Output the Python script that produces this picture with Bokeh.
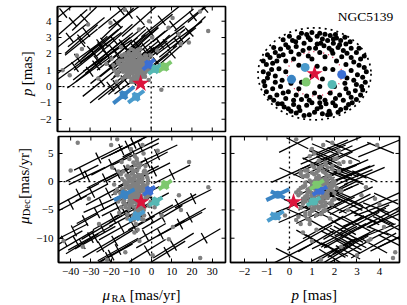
import math
from bokeh.plotting import figure
from bokeh.layouts import column, row
from bokeh.models import Range1d, FixedTicker, Span, Label
from bokeh.core.properties import value
from bokeh.embed import file_html
from bokeh.resources import INLINE

FONT = "Liberation Serif"

# ---------------- data ----------------
# field stars with large errors (black crosses): proper motions [mas/yr], parallax [mas]
BLACK_RA = [-43.2, -38.4, -36.0, -34.3, -32.8, -31.9, -30.2, -29.5, -26.3, -24.6,
            -24.6, -21.4, -19.8, -18.2, -16.6, -15.0, -15.0, -11.8, -11.8, -10.9,
            -8.5, -5.3, -2.1, -2.1, -0.5, 1.1, 2.7, 4.4, 5.2, 10.0,
            10.8, 14.0, 18.7, 20.5, -37.4, -27.9, -34.3, -21.4, -8.5, 7.6,
            -16.6, 26.0, -5.2, -12.5, -27.0, -23.0, -19.0, -14.0, -9.5, -6.5,
            -25.0, -3.0, 0.5, -17.0, 13.0, -40.0, -9.0, -20.0, -13.0]
BLACK_DEC = [-10.5, -8.7, -2.2, -11.0, -6.9, 1.0, -9.9, -1.9, 4.2, -8.1,
             -4.0, -13.4, 3.07, -10.5, -4.6, 5.7, -8.1, 6.3, -0.8, -6.0,
             4.8, 6.0, 3.35, -12.2, -6.3, 1.9, 4.8, -9.3, -6.3, 1.3,
             -11.3, -7.5, -6.3, -3.0, -10.5, -9.9, 1.5, -2.0, -8.1, -12.5,
             -12.0, -10.0, -2.5, 2.0, -5.5, 0.5, -6.5, -3.0, -4.5, 1.0,
             -11.5, -9.5, -3.5, 1.5, -4.0, -4.0, 6.8, -13.0, -5.7]
BLACK_P = [4.5, 3.95, 1.7, 2.72, 4.15, 3.33, 0.9, 2.2, 1.6, 2.41,
           0.3, 1.9, 1.18, 2.82, 3.85, 1.6, 4.66, 2.2, 1.2, 4.46,
           2.41, 4.05, 1.8, 2.0, 3.33, 2.2, 1.5, 2.62, 4.05, 2.0,
           3.74, 3.0, 3.33, 4.3, 1.2, 2.0, 2.9, 1.9, 1.5, 2.6,
           2.0, 4.8, 1.9, 2.4, 1.3, 2.7, 2.3, 2.6, 2.0, 2.5,
           2.6, 2.4, 1.2, 0.1, 2.7, 3.0, 0.35, 0.0, 0.4]
# error ellipse: half length of major axis (in mu_RA) and its slopes dp/dRA, dDec/dRA
BLACK_L = [9, 7, 10, 8, 6, 9, 11, 8, 12, 10,
           9, 12, 10, 9, 8, 10, 11, 9, 8, 10,
           12, 9, 10, 9, 11, 8, 10, 12, 10, 9,
           10, 11, 8, 9, 9, 10, 8, 11, 10, 9,
           10, 8, 9, 10, 10, 9, 10, 11, 9, 10,
           9, 10, 8, 9, 9, 8, 9, 10, 8]
BLACK_KP = [0.10, 0.11, 0.09, 0.10, 0.12, 0.10, 0.09, 0.11, 0.10, 0.09,
            0.10, 0.08, 0.10, 0.11, 0.12, 0.10, 0.10, 0.11, 0.10, 0.09,
            0.10, 0.11, 0.10, 0.09, 0.10, 0.12, 0.10, 0.09, 0.10, 0.11,
            0.10, 0.09, 0.12, 0.10, 0.09, 0.10, 0.11, 0.10, 0.09, 0.10,
            0.10, 0.11, 0.10, 0.11, 0.10, 0.11, 0.10, 0.10, 0.10, 0.11,
            0.10, 0.10, 0.10, 0.10, 0.10, 0.10, 0.09, 0.10, 0.11]
BLACK_KD = [0.20, 0.18, 0.19, 0.22, 0.20, 0.17, 0.20, 0.19, 0.18, 0.21,
            0.16, 0.20, 0.19, 0.22, 0.18, 0.17, 0.20, 0.18, 0.20, 0.19,
            0.17, 0.18, 0.19, 0.22, 0.20, 0.18, 0.17, 0.20, 0.21, 0.18,
            0.22, 0.19, 0.20, 0.18, 0.21, 0.20, 0.18, 0.19, 0.20, 0.22,
            0.20, 0.21, 0.18, 0.19, 0.19, 0.18, 0.20, 0.19, 0.20, 0.18,
            0.21, 0.21, 0.19, 0.18, 0.20, 0.19, 0.18, 0.20, 0.19]

# stars with small errors (grey points)
GRAY_RA = [-8.2, -6.5, -10.1, -4.3, -12.4, -7.7, -2.9, -9.6, -5.8, -14.2,
           -11.0, -3.5, -7.1, -13.1, -1.2, -9.0, -6.0, -15.8, -4.9, -8.8,
           -10.5, -5.2, -12.9, -2.2, -7.4, -17.0, -9.3, -3.9, -6.7, -11.8,
           -8.0, -4.6, -14.6, -0.5, -10.0, -6.3, -12.0, -2.8, -9.8, -7.0,
           -5.5, -13.5, -8.6, -3.2, -11.3, -6.9, -16.4, -1.8, -9.1, -4.0,
           -7.8, -10.8, -5.0, -12.6, -2.5, -8.4, -6.1, -14.0, -3.7, -9.5,
           -11.6, -4.4, -7.3, -15.2, -6.6, -1.0, -9.9, -5.7, -13.0, -8.1,
           -3.0, -10.3, -6.8, -12.2, -4.8, -8.9, -2.0, -7.5, -11.4, -5.4,
           -9.2, -6.2, -13.8, -3.4, -7.9, -10.6, -5.0, -1.5, -8.3, -12.8,
           -4.2, -7.6, -15.0, -9.7, -2.6, -6.4, -11.1, -8.7, -5.9, -3.6,
           -18.5, -16.0, -0.2, 1.5, -19.5, -14.8, -6.9, -10.2, -4.5, -8.5,
           -7.0, -9.5, -5.5, -11.2, -8.3, -6.2, -10.3, -4.8, -12.0, -7.8,
           -9.0, -6.8, -13.0, -8.4, -5.0, -10.8, -7.4, -3.6, -11.6, -9.8,
           -8.6, -6.0, -10.0, -4.2, -12.5, -7.2, -9.2, -5.8, -11.0, -13.6,
           -7.6, -10.6, -6.4, -8.9, -4.5, -11.9, -5.3, -9.4, -14.5, -3.0,
           -8.0, -6.7, -9.9, -5.2, -12.8, -7.1, -10.4, -3.8, -8.7, -15.5,
           -6.9, -9.3, -11.5, -4.9, -7.9, -13.4, -2.4, -10.1, -6.0, -8.2,
           -16.5, -14.0, -1.5, -18.0, -3.0, -12.0, -6.5, -9.0, -4.0, -11.0,
           -36.5, 18.5, -43.5, 13.5, -31.0, 0.5, 8.5, -34.0, 24.0, 14.5,
           -20.0, -13.0, 5.0, -1.0, -26.0, 28.0, -40.0, -22.0, 3.0, 10.5,
           -6.0, -17.0]
GRAY_DEC = [-1.2, 0.4, -2.8, -3.9, 1.1, -0.3, -1.8, 2.2, -4.6, -2.1,
            -3.4, 1.6, -5.5, -0.6, -2.4, 3.4, -1.0, -3.0, 0.9, -6.8,
            0.2, -2.6, -4.2, 0.8, 4.1, -1.4, -0.9, -5.0, -3.2, 2.7,
            -2.0, -0.2, 0.5, -3.6, -1.7, 2.5, -5.8, -1.1, 1.4, -4.1,
            3.0, -2.9, -0.6, -2.0, -4.8, -1.5, 1.8, 0.3, -3.1, 5.0,
            -7.5, 0.7, -4.4, -1.0, -0.8, 1.9, -2.3, -3.7, -6.0, -0.1,
            -2.5, -1.3, 3.7, 1.3, -5.2, -4.3, -1.9, 0.0, -0.4, 2.9,
            -2.9, -3.8, -0.9, -2.2, 1.2, -5.9, -0.3, -3.3, 1.0, -1.6,
            0.6, -4.7, -1.6, 2.0, -2.7, -0.7, -6.6, -1.9, 4.5, -4.0,
            -3.5, -2.0, -4.5, -3.0, 1.5, 0.9, -1.1, -0.5, -2.5, -0.7,
            -0.5, -5.5, -1.5, -4.5, 2.5, 3.5, -8.5, 5.8, 6.5, -9.0,
            -1.8, -0.8, -2.6, -1.2, -3.0, 0.2, -2.2, -1.5, -0.3, -3.6,
            -2.4, -0.5, -1.8, 1.0, -3.4, -4.2, -2.9, -2.2, 0.6, -1.4,
            0.4, -1.2, -3.4, -0.6, -2.6, -4.8, 1.6, -3.8, -0.9, -3.3,
            -2.6, -1.9, 1.2, -4.4, 0.5, -0.1, -0.9, -2.9, -1.3, -3.0,
            -5.2, -3.2, 0.3, -1.7, -4.5, 2.0, -3.9, 1.8, -2.0, -2.0,
            -0.2, -3.7, -2.7, -4.9, 0.9, 0.1, -2.7, 2.3, -5.7, -1.1,
            -3.5, 1.8, -4.2, -2.0, 2.8, -6.5, 3.2, -6.2, -6.8, 4.0,
            6.9, 3.5, -10.5, -2.4, -3.0, -13.0, -10.2, -11.5, -13.5, -5.0,
            6.5, -12.5, -6.0, -4.0, -7.5, -1.0, 2.0, -13.8, 5.5, -8.0,
            -10.5, 7.5]
GRAY_P = [1.1, 1.4, 0.8, 0.6, 1.7, 1.3, 0.9, 1.9, 0.5, 1.2,
          1.5, 1.0, 0.7, 2.0, 0.4, 1.6, 1.2, 1.4, 1.8, 0.3,
          0.9, 1.5, 1.1, 1.3, 2.1, 0.8, 1.0, 1.6, 0.6, 1.4,
          1.3, 0.7, 1.9, 1.0, 2.3, 1.1, 0.9, 1.7, 0.5, 1.2,
          1.6, 1.0, 1.8, 0.8, 1.3, 0.4, 1.5, 1.2, 2.0, 1.1,
          0.9, 1.2, 1.4, 0.6, 1.9, 2.2, 1.0, 1.6, 0.7, 1.5,
          0.8, 1.7, 1.3, 1.1, 1.5, 0.9, 0.3, 2.0, 1.4, 1.0,
          1.4, 1.8, 0.6, 1.5, 0.8, 1.2, 1.0, 1.9, 0.7, 2.3,
          1.6, 1.1, 0.9, 1.3, 1.5, 1.2, 0.8, 1.7, 0.9, 1.9,
          1.0, 0.5, 1.3, 1.0, 1.6, 0.8, 2.1, 1.4, 1.7, 0.7,
          1.3, 0.9, 1.9, 1.1, 1.7, 2.4, 1.2, 1.0, 1.5, 0.6,
          1.2, 1.0, 1.3, 1.4, 1.0, 1.6, 1.1, 1.4, 1.7, 0.9,
          0.8, 1.5, 1.2, 1.3, 0.9, 1.6, 1.0, 1.1, 1.2, 1.8,
          1.5, 0.9, 1.3, 1.6, 0.7, 1.1, 1.2, 1.0, 0.6, 1.4,
          1.6, 1.3, 0.8, 1.5, 1.3, 1.0, 1.8, 1.7, 1.2, 0.6,
          1.0, 0.7, 1.7, 1.2, 1.3, 0.8, 0.9, 1.5, 2.0, 1.6,
          1.9, 1.4, 1.6, 1.0, 0.6, 1.1, 1.1, 1.3, 1.4, 0.5,
          0.7, 0.5, 1.5, 1.0, 1.9, 1.8, 2.2, 0.4, 0.9, 2.0,
          1.9, 2.7, 1.0, 3.2, 3.8, 3.0, 3.6, 2.3, 4.6, 2.6,
          3.9, 4.7, -0.2, 4.0, 0.5, 3.4, 0.7, 1.4, 2.2, 4.2,
          3.5, 0.3]

# highlighted stars (coloured crosses)
COL_COLORS = ["#3b6fd4", "#55b8b4", "#7dc86e", "#3a84c4", "#4a9bcc"]
COL_RA = [-1.2, 2.0, 6.7, -13.5, -7.4]
COL_DEC = [-1.6, -3.5, -0.55, -2.3, -6.1]
COL_P = [1.35, 1.07, 1.22, -0.52, -0.62]
COL_L = [2.9, 3.3, 3.2, 5.1, 3.9]
COL_KP = [0.11, 0.09, 0.095, 0.10, 0.093]
COL_KD = [0.25, 0.21, 0.25, 0.19, 0.22]
COL_SKY_U = [0.52, 0.335, -0.16, -0.44, -0.18]
COL_SKY_V = [-0.016, -0.25, -0.195, -0.13, 0.15]

# the cluster itself
STAR_RA, STAR_DEC, STAR_P = -5.2, -3.6, 0.18
CLUSTER_NAME = "NGC5139"

# sky positions of the field stars (offsets relative to the cluster centre)
SKY_U = [-0.05, 0.1, 0.2, -0.15, 0.3, 0.05, -0.3, 0.42, 0.15, -0.08, 0.25, 0.5, -0.42, 0.36, -0.2, 0.6, 0.05, -0.55, 0.18, -0.35, 0.45, 0.7, -0.65, 0.28, -0.1,
         -0.75, 0.8, -0.6, 0.62, -0.85, 0.88, -0.45, 0.52, 0.35, -0.3, 0.1, -0.72, 0.75, -0.92, 0.95, -0.55, 0.6, 0.42, -0.4, 0.2, -0.12,
         -0.98, -0.82, -0.68, -0.55, 0.7, 0.82, 0.92, -0.9, -0.75, 0.62, 0.05, -0.05, 0.15, -0.62, 0.75,
         -0.95, 0.9, -0.8, 0.78, -0.65, 0.6, -0.5, 0.48, -0.35, 0.3, -0.15, 0.1, -0.72, 0.7, -0.85, 0.88, -0.55, 0.55, -0.25, 0.2, 0.0, 0.38, -0.3,
         -0.62, 0.65, -0.4, 0.4, -0.15, 0.12, -0.5, 0.5, -0.28, 0.28, 0.0, -0.1, 0.15, -0.35, 0.35, -0.05, 0.05, 0.22,
         -0.25, 0.4, -0.48, 0.58, -0.6, 0.68, -0.78, 0.85, -0.9, 0.95, -0.98, 0.99, -0.97, 0.97, -0.92, 0.92, -0.78, 0.8, -0.7, 0.72, -0.58, 0.6, -0.45, 0.45, -0.2, 0.25,
         0.02, -0.22, 0.33, 0.55, -0.5, 0.12, -0.12, 0.36, -0.36, 0.48,
         -0.88, 0.85, -0.8, 0.7, -0.68,
         -0.4, 0.4, -0.6, 0.65, -0.1, 0.1, -0.75, 0.8, 0.3, -0.3, 0.58, -0.45,
         0.2, -0.3, 0.35, -0.25, 0.1, -0.05]
SKY_V = [0.97, 0.95, 0.93, 0.92, 0.9, 0.88, 0.85, 0.84, 0.82, 0.8, 0.78, 0.78, 0.78, 0.72, 0.72, 0.7, 0.7, 0.68, 0.66, 0.64, 0.62, 0.6, 0.58, 0.6, 0.6,
         0.5, 0.5, 0.45, 0.48, 0.38, 0.35, 0.52, 0.4, 0.48, 0.46, 0.5, 0.3, 0.28, 0.22, 0.15, 0.3, 0.22, 0.3, 0.35, 0.4, 0.42,
         0.05, 0.1, 0.12, 0.05, 0.08, -0.02, -0.08, -0.1, -0.05, -0.1, 0.18, -0.05, -0.12, -0.15, -0.15,
         -0.28, -0.3, -0.35, -0.4, -0.3, -0.35, -0.42, -0.5, -0.5, -0.45, -0.52, -0.55, -0.5, -0.55, -0.55, -0.5, -0.58, -0.62, -0.6, -0.62, -0.45, -0.3, -0.35,
         -0.7, -0.72, -0.72, -0.75, -0.74, -0.78, -0.82, -0.84, -0.86, -0.88, -0.9, -0.96, -0.94, -0.92, -0.68, -0.68, -0.82, -0.7,
         0.95, 0.92, 0.88, 0.86, 0.8, 0.75, 0.62, 0.6, 0.45, 0.42, 0.3, 0.05, -0.18, -0.2, -0.42, -0.38, -0.62, -0.6, -0.7, -0.68, -0.78, -0.8, -0.88, -0.9, -0.98, -0.96,
         0.6, 0.55, 0.55, 0.55, 0.62, 0.72, 0.85, 0.82, 0.75, 0.68,
         0.0, 0.2, 0.25, 0.38, 0.42,
         -0.62, -0.58, -0.45, -0.45, -0.62, -0.68, -0.2, -0.25, -0.95, -0.78, -0.22, -0.22,
         0.12, 0.2, 0.1, -0.2, -0.3, 0.35]
CONE_R = 1.08
INNER_R = 0.52

RA_TICKS = [-40, -30, -20, -10, 0, 10, 20, 30]
P_TICKS = [-2, -1, 0, 1, 2, 3, 4]
DEC_TICKS = [-10, -5, 0, 5]

# ---------------- layout ----------------
RA_RANGE = (-46.0, 36.5)
P_RANGE_Y = (-2.75, 4.9)
P_RANGE_X = (-2.62, 4.89)
DEC_RANGE = (-14.3, 8.0)
SKY_X = (-1.606, 1.624)
SKY_Y = (-1.354, 1.580)
FW = 169
FH_TOP = 125
FH_BOT = 126
FRAME_LEFT = 56
YLAB_W1 = 36
YLAB_W2 = 33
TOP_H = 133
BOT_H = 147
XLAB_H = 24
TOTAL_W = 406
LEFT_W1 = FRAME_LEFT - YLAB_W1 + FW + 2
LEFT_W2 = FRAME_LEFT - YLAB_W2 + FW + 2
RIGHT_W = TOTAL_W - FRAME_LEFT - FW - 2
RIGHT_BORDER = RIGHT_W - 3 - FW


def lab(t):
    return str(t).replace("-", "\u2212")


def make_fig(xr, yr, w, h, bl, br, bt, bb, xaxis=True, yaxis=True, outline=True):
    p = figure(width=w, height=h, x_range=Range1d(*xr), y_range=Range1d(*yr),
               output_backend="svg", toolbar_location=None,
               x_axis_location="below" if xaxis else None,
               y_axis_location="left" if yaxis else None,
               min_border_left=bl, min_border_right=br,
               min_border_top=bt, min_border_bottom=bb)
    p.grid.visible = False
    p.background_fill_color = "white"
    p.border_fill_color = "white"
    p.outline_line_color = "black" if outline else None
    p.outline_line_width = 1.7
    return p


def style_axes(p, xticks, yticks, ystandoff=6):
    if p.below:
        ax = p.below[0]
        ax.ticker = FixedTicker(ticks=xticks)
        ax.major_label_overrides = {t: lab(t) for t in xticks}
        ax.major_label_standoff = 5
    if p.left:
        ax = p.left[0]
        ax.ticker = FixedTicker(ticks=yticks)
        ax.major_label_overrides = {t: lab(t) for t in yticks}
        ax.major_label_standoff = ystandoff
    for ax in p.axis:
        ax.axis_line_color = "black"
        ax.axis_line_width = 1.7
        ax.major_tick_in = 4
        ax.major_tick_out = 0
        ax.major_tick_line_color = "black"
        ax.major_tick_line_width = 1
        ax.minor_tick_line_color = None
        ax.major_label_text_font = FONT
        ax.major_label_text_font_size = "11px"
        ax.major_label_text_color = "black"


def inner_ticks(p, xticks, yticks, xr, yr, h, sides):
    # tick marks (4 px, pointing inwards) on the sides that carry no labelled axis
    sx = FW / (xr[1] - xr[0])
    sy = h / (yr[1] - yr[0])
    tx, ty = 4 / sx, 4 / sy
    x0, y0, x1, y1 = [], [], [], []
    for t in xticks:
        if "bottom" in sides:
            x0.append(t); y0.append(yr[0]); x1.append(t); y1.append(yr[0] + ty)
        if "top" in sides:
            x0.append(t); y0.append(yr[1]); x1.append(t); y1.append(yr[1] - ty)
    for t in yticks:
        if "left" in sides:
            x0.append(xr[0]); y0.append(t); x1.append(xr[0] + tx); y1.append(t)
        if "right" in sides:
            x0.append(xr[1]); y0.append(t); x1.append(xr[1] - tx); y1.append(t)
    p.segment(x0=x0, y0=y0, x1=x1, y1=y1, line_color="black", line_width=1)


def zero_lines(p):
    for dim in ("width", "height"):
        p.add_layout(Span(location=0, dimension=dim, line_color="black",
                          line_dash="2 3", line_width=1.3, level="underlay"))


def crosses(xs, ys, dxs, dys, xr, yr, h, minor_px=None, mirror=None):
    sx = FW / (xr[1] - xr[0])
    sy = h / (yr[1] - yr[0])
    x0, y0, x1, y1 = [], [], [], []
    for x, y, dx, dy in zip(xs, ys, dxs, dys):
        x0.append(x - dx); y0.append(y - dy); x1.append(x + dx); y1.append(y + dy)
        if mirror is None:
            ux, uy = dx * sx, dy * sy
            n = math.hypot(ux, uy)
            mx = -uy / n * minor_px / sx
            my = ux / n * minor_px / sy
        else:
            mx, my = dx * mirror, -dy * mirror
        x0.append(x - mx); y0.append(y - my); x1.append(x + mx); y1.append(y + my)
    return x0, y0, x1, y1


def draw_panel(p, bx, by, bdx, bdy, gx, gy, cx, cy, cdx, cdy, sx_, sy_, xr, yr, h, mirror):
    if mirror:
        a = crosses(bx, by, bdx, bdy, xr, yr, h, mirror=0.6)
        c = crosses(cx, cy, cdx, cdy, xr, yr, h, mirror=0.6)
    else:
        a = crosses(bx, by, bdx, bdy, xr, yr, h, minor_px=6)
        c = crosses(cx, cy, cdx, cdy, xr, yr, h, minor_px=5)
    p.segment(x0=a[0], y0=a[1], x1=a[2], y1=a[3], line_color="black", line_width=1.3)
    p.scatter(gx, gy, size=4.5, fill_color="#808080", line_color=None)
    cols2 = [col for col in COL_COLORS for _ in range(2)]
    p.segment(x0=c[0], y0=c[1], x1=c[2], y1=c[3], line_color=cols2, line_width=4)
    p.scatter(cx, cy, size=8, fill_color=COL_COLORS, line_color=None)
    p.scatter([sx_], [sy_], marker="star", size=18, fill_color="#dc143c", line_color=None)


def label_fig(w, h):
    p = figure(width=w, height=h, x_range=Range1d(0, w), y_range=Range1d(0, h),
               output_backend="svg", toolbar_location=None,
               x_axis_location=None, y_axis_location=None,
               min_border_left=0, min_border_right=0, min_border_top=0, min_border_bottom=0)
    p.grid.visible = False
    p.outline_line_color = None
    p.background_fill_color = "white"
    p.border_fill_color = "white"
    return p


def put(p, x, y, text, size, italic=False, angle=0.0):
    p.text(x=[x], y=[y], text=[text], angle=angle, text_font=value(FONT),
           text_font_size=f"{size}px", text_font_style="italic" if italic else "normal",
           text_color="black", text_align="left", text_baseline="alphabetic")


# ---------- top left: mu_RA vs parallax ----------
tl = make_fig(RA_RANGE, P_RANGE_Y, LEFT_W1, TOP_H, FRAME_LEFT - YLAB_W1, 2, 6, 2, xaxis=False)
style_axes(tl, RA_TICKS, P_TICKS, ystandoff=6)
inner_ticks(tl, RA_TICKS, P_TICKS, RA_RANGE, P_RANGE_Y, FH_TOP, ("bottom", "top", "right"))
zero_lines(tl)
draw_panel(tl, BLACK_RA, BLACK_P, BLACK_L, [k * l for k, l in zip(BLACK_KP, BLACK_L)],
           GRAY_RA, GRAY_P, COL_RA, COL_P, COL_L, [k * l for k, l in zip(COL_KP, COL_L)],
           STAR_RA, STAR_P, RA_RANGE, P_RANGE_Y, FH_TOP, False)

# ---------- top right: sky ----------
tr = make_fig(SKY_X, SKY_Y, RIGHT_W, TOP_H, 3, RIGHT_BORDER, 6, 2,
              xaxis=False, yaxis=False, outline=False)
tr.ellipse(x=[0], y=[0], width=[2 * CONE_R], height=[2 * CONE_R], fill_color=None,
           line_color="black", line_dash="2 4", line_width=1.7)
tr.ellipse(x=[0], y=[0], width=[2 * INNER_R], height=[2 * INNER_R], fill_color=None,
           line_color="#dc143c", line_dash="1 4", line_width=1.2)
tr.scatter(SKY_U, SKY_V, size=5, fill_color="black", line_color=None)
tr.scatter(COL_SKY_U, COL_SKY_V, size=9, fill_color=COL_COLORS, line_color=None)
tr.scatter([0], [0], marker="star", size=17, fill_color="#dc143c", line_color=None)
tr.add_layout(Label(x=162.7, y=115, x_units="screen", y_units="screen", text=CLUSTER_NAME,
                    text_font=FONT, text_font_size="13.5px", text_color="black",
                    text_align="right", text_baseline="middle"))

# ---------- bottom left: mu_RA vs mu_Dec ----------
bl = make_fig(RA_RANGE, DEC_RANGE, LEFT_W2, BOT_H, FRAME_LEFT - YLAB_W2, 2, 3, BOT_H - 3 - FH_BOT)
style_axes(bl, RA_TICKS, DEC_TICKS, ystandoff=5)
inner_ticks(bl, RA_TICKS, DEC_TICKS, RA_RANGE, DEC_RANGE, FH_BOT, ("top", "right"))
zero_lines(bl)
draw_panel(bl, BLACK_RA, BLACK_DEC, BLACK_L, [k * l for k, l in zip(BLACK_KD, BLACK_L)],
           GRAY_RA, GRAY_DEC, COL_RA, COL_DEC, COL_L, [k * l for k, l in zip(COL_KD, COL_L)],
           STAR_RA, STAR_DEC, RA_RANGE, DEC_RANGE, FH_BOT, False)

# ---------- bottom right: parallax vs mu_Dec ----------
br = make_fig(P_RANGE_X, DEC_RANGE, RIGHT_W, BOT_H, 3, RIGHT_BORDER, 3, BOT_H - 3 - FH_BOT,
              yaxis=False)
style_axes(br, P_TICKS, DEC_TICKS)
inner_ticks(br, P_TICKS, DEC_TICKS, P_RANGE_X, DEC_RANGE, FH_BOT, ("top", "left", "right"))
zero_lines(br)
draw_panel(br, BLACK_P, BLACK_DEC, [k * l for k, l in zip(BLACK_KP, BLACK_L)],
           [k * l for k, l in zip(BLACK_KD, BLACK_L)],
           GRAY_P, GRAY_DEC, COL_P, COL_DEC, [k * l for k, l in zip(COL_KP, COL_L)],
           [k * l for k, l in zip(COL_KD, COL_L)],
           STAR_P, STAR_DEC, P_RANGE_X, DEC_RANGE, FH_BOT, True)

# ---------- axis titles ----------
yl1 = label_fig(YLAB_W1, TOP_H)
put(yl1, 26, 37.8, "p", 15, italic=True, angle=math.pi / 2)
put(yl1, 26, 49.1, "[mas]", 15, angle=math.pi / 2)

yl2 = label_fig(YLAB_W2, BOT_H)
put(yl2, 23.5, 44.8, "\u03bc", 15, italic=True, angle=math.pi / 2)
put(yl2, 26, 53.9, "Dec", 10.5, angle=math.pi / 2)
put(yl2, 23.5, 74.3, "[mas/yr]", 15, angle=math.pi / 2)

xl = label_fig(TOTAL_W, XLAB_H)
put(xl, 102, 9.5, "\u03bc", 15, italic=True)
put(xl, 111.1, 6.5, "RA", 10.5)
put(xl, 129.2, 9.5, "[mas/yr]", 15)
put(xl, 291, 9.5, "p", 15, italic=True)
put(xl, 302.3, 9.5, "[mas]", 15)

page = column(row(yl1, tl, tr), row(yl2, bl, br), xl)
open("out.html", "w").write(file_html(page, INLINE))
